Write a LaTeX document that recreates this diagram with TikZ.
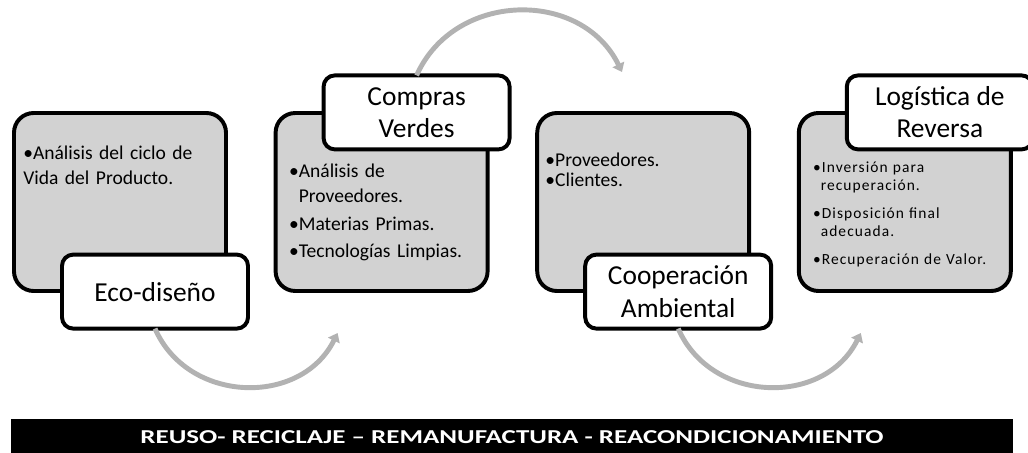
\documentclass[tikz,border=0pt]{standalone}
\usepackage{graphicx}
\usepackage{fontspec}
\setmainfont{Carlito}
\newfontfamily\anchafont[LetterSpace=7]{Carlito}
\usetikzlibrary{positioning,arrows.meta}

\tikzset{
  caja/.style={draw, line width=2.8pt, rounded corners=14pt, fill=gray!35, outer sep=0pt,
    minimum width=5.3cm, minimum height=4.45cm},
  titulo/.style={draw, line width=2.8pt, rounded corners=8pt, fill=white, outer sep=0pt,
    minimum width=4.65cm, minimum height=1.85cm, align=center,
    font=\fontsize{19.5}{23}\selectfont},
  vineta/.style={anchor=base west, inner sep=0pt, text width=5cm, align=left,
    font=\fontsize{13.9}{17.6}\selectfont},
  flecha/.style={draw=black!30, line width=3.5pt, looseness=1.15,
    -{Triangle[length=6pt,width=9pt]}},
  banda/.style={fill=black, text=white, outer sep=0pt, minimum width=25.05cm,
    minimum height=0.925cm, font=\fontsize{14}{16}\selectfont\bfseries}
}

\begin{document}
\begin{tikzpicture}
  \useasboundingbox (0,0) rectangle (25.7,-11.325);
  % cajas grises
  \node[caja] (g1) at (3,-5.05) {};
  \node[caja, right=1.24cm of g1] (g2) {};
  \node[caja, right=1.24cm of g2] (g3) {};
  \node[caja, right=1.24cm of g3] (g4) {};
  % contenido
  \node[vineta] (t1) at ([shift={(0.225,-1.175)}]g1.north west)
    {•Análisis del ciclo de\\Vida del Producto.};
  \node[vineta] (t2) at ([shift={(0.33,-1.625)}]g2.north west)
    {•Análisis de\\\phantom{•}Proveedores.\\[2pt]•Materias Primas.\\[2pt]•Tecnologías Limpias.};
  \node[vineta] (t3) at ([shift={(0.2,-1.35)}]g3.north west)
    {•Proveedores.\\[-3.6pt]•Clientes.};
  \node[vineta, font=\anchafont\fontsize{11}{12.3}\selectfont] (t4) at ([shift={(0.35,-1.5)}]g4.north west)
    {•Inversión para\\\phantom{•}recuperación.\\[8pt]•Disposición final\\\phantom{•}adecuada.\\[8pt]•Recuperación de Valor.};
  % titulos
  \node[titulo] (l1) at ([shift={(0.875,-2.24)}]g1.center) {Eco-diseño};
  \node[titulo] (l2) at ([shift={(0.875,2.24)}]g2.center) {Compras\\Verdes};
  \node[titulo] (l3) at ([shift={(0.875,-2.24)}]g3.center) {Cooperación\\Ambiental};
  \node[titulo] (l4) at ([shift={(0.875,2.24)}]g4.center) {Logística de\\Reversa};
  % flechas
  \coordinate (e1) at ([shift={(-1.1,-1.05)}]g2.south);
  \coordinate (e2) at ([shift={(-0.53,1.025)}]g3.north);
  \coordinate (e3) at ([shift={(-1.1,-1.05)}]g4.south);
  \draw[flecha] (l1.south) to[bend right=65] (e1);
  \draw[flecha] (l2.north) to[bend left=65] (e2);
  \draw[flecha] (l3.south) to[bend right=65] (e3);
  % banda inferior
  \node[banda] (bnd) at (12.8,-10.94)
    {\scalebox{1.37}[1]{REUSO- RECICLAJE – REMANUFACTURA - REACONDICIONAMIENTO}};
\end{tikzpicture}
\end{document}
